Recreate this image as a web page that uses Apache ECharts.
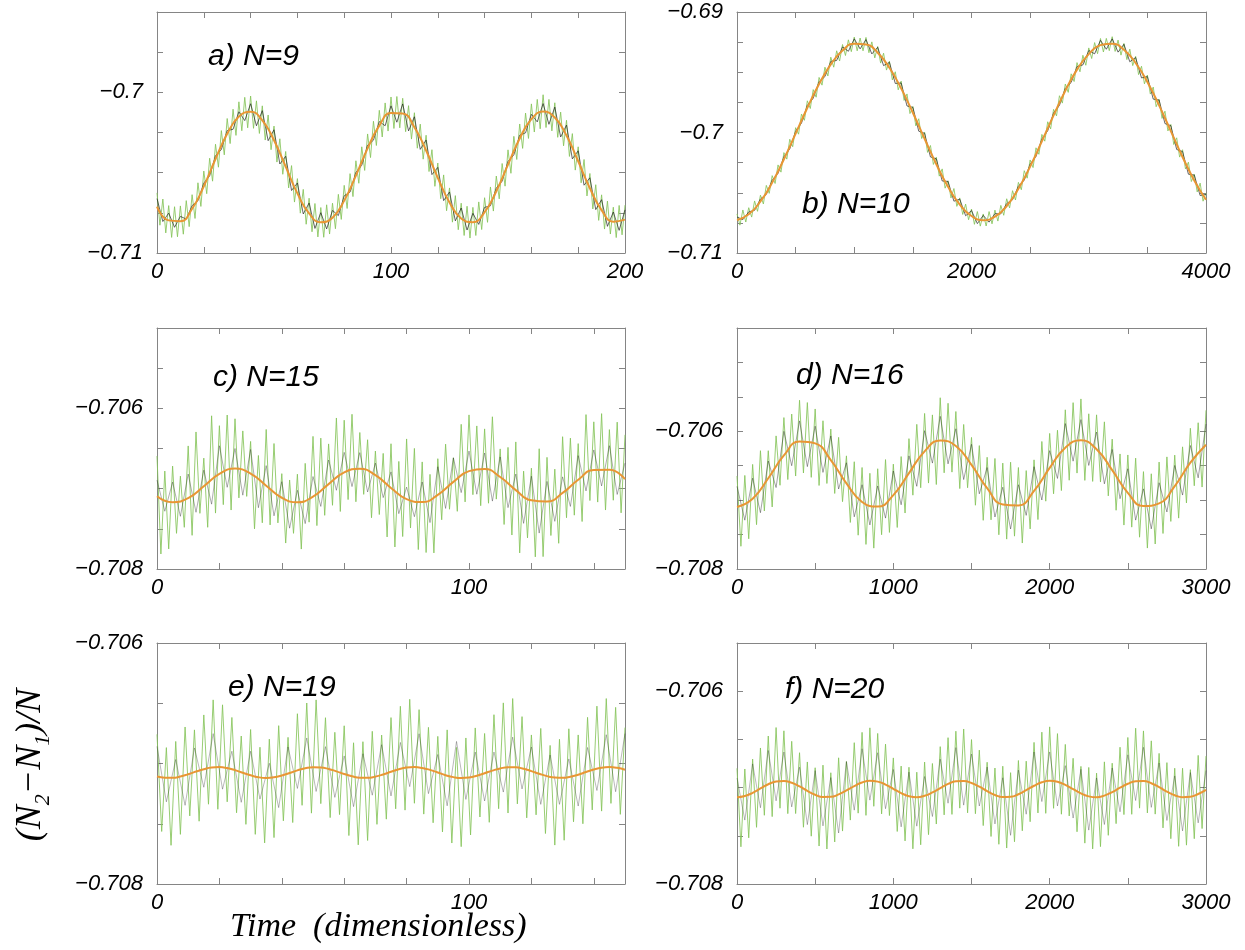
<!DOCTYPE html>
<html><head><meta charset="utf-8">
<script src="https://cdn.jsdelivr.net/npm/echarts@6/dist/echarts.min.js"></script>
<style>html,body{margin:0;padding:0;background:#fff}#c{width:1245px;height:950px}</style>
</head><body><div id="c"></div>
<script>
// ---------------- tick labels ----------------
const A_X_LABELS = [0, 100, 200];
const A_Y_LABELS = [-0.71, -0.7];
const B_X_LABELS = [0, 2000, 4000];
const B_Y_LABELS = [-0.71, -0.7, -0.69];
const C_X_LABELS = [0, 100];
const C_Y_LABELS = [-0.708, -0.706];
const D_X_LABELS = [0, 1000, 2000, 3000];
const D_Y_LABELS = [-0.708, -0.706];
const E_X_LABELS = [0, 100];
const E_Y_LABELS = [-0.708, -0.706];
const F_X_LABELS = [0, 1000, 2000, 3000];
const F_Y_LABELS = [-0.708, -0.706];

// sampling steps (time units) of each series
const A_STEPS = {orange: 5, green: 1.25, black: 2.5};
const B_STEPS = {orange: 100, green: 25, black: 50};
const C_STEPS = {orange: 5, green: 1.25, black: 2.5};
const D_STEPS = {orange: 100, green: 25, black: 50};
const E_STEPS = {orange: 2.5, green: 1.5, black: 3};
const F_STEPS = {orange: 50, green: 25, black: 50};

// ---------------- panel a) N=9 ----------------
const A_ORANGE = [-0.70711,-0.70797,-0.70802,-0.70725,-0.70585,-0.70415,-0.70258,-0.70151,-0.70121,-0.70174,-0.70298,-0.70463,-0.70629,-0.70754,-0.70809,-0.70780,-0.70674,-0.70518,-0.70349,-0.70207,-0.70129,-0.70132,-0.70217,-0.70362,-0.70532,-0.70685,-0.70785,-0.70808,-0.70746,-0.70616,-0.70450,-0.70287,-0.70167,-0.70120,-0.70157,-0.70269,-0.70429,-0.70597,-0.70733,-0.70805,-0.70792];
const A_GREEN = [-0.70626,-0.70827,-0.70664,-0.70875,-0.70705,-0.70903,-0.70712,-0.70899,-0.70707,-0.70883,-0.70674,-0.70836,-0.70637,-0.70785,-0.70563,-0.7071,-0.7049,-0.70631,-0.7041,-0.70553,-0.70323,-0.70466,-0.70238,-0.70389,-0.70163,-0.70319,-0.70105,-0.70268,-0.70059,-0.70239,-0.70031,-0.70221,-0.70023,-0.70224,-0.70053,-0.70256,-0.70084,-0.70297,-0.70141,-0.70357,-0.7021,-0.70434,-0.70289,-0.7051,-0.70368,-0.70595,-0.70456,-0.70683,-0.70537,-0.70752,-0.70604,-0.70821,-0.70659,-0.70868,-0.70692,-0.709,-0.70717,-0.70902,-0.707,-0.70882,-0.7069,-0.70849,-0.70635,-0.70791,-0.70579,-0.70723,-0.70506,-0.70649,-0.70426,-0.70566,-0.70339,-0.70486,-0.70259,-0.70406,-0.7018,-0.70331,-0.70112,-0.70278,-0.70066,-0.70241,-0.70029,-0.70225,-0.70026,-0.70221,-0.70037,-0.70245,-0.70083,-0.70291,-0.70127,-0.70348,-0.70198,-0.70416,-0.70267,-0.70493,-0.70357,-0.70585,-0.7044,-0.70662,-0.70514,-0.70737,-0.70595,-0.70808,-0.70643,-0.70855,-0.7069,-0.70891,-0.70709,-0.70907,-0.70716,-0.70891,-0.70682,-0.70854,-0.70656,-0.70809,-0.70589,-0.70739,-0.70521,-0.70663,-0.70443,-0.70584,-0.70358,-0.70504,-0.70274,-0.70418,-0.70197,-0.70349,-0.70129,-0.70287,-0.70072,-0.70247,-0.70044,-0.70227,-0.70015,-0.70219,-0.70044,-0.7024,-0.70065,-0.7028,-0.70123,-0.70333,-0.70174,-0.70399,-0.70257,-0.70484,-0.70339,-0.70563,-0.70418,-0.70645,-0.70505,-0.70726,-0.70575,-0.70797,-0.70638,-0.70851,-0.70677,-0.70882,-0.70715,-0.70904,-0.70704,-0.70887,-0.70702];
const A_BLACK = [-0.70661,-0.70804,-0.70752,-0.7084,-0.70772,-0.70789,-0.70705,-0.70675,-0.70565,-0.7052,-0.70395,-0.70356,-0.70238,-0.7023,-0.70121,-0.70176,-0.70071,-0.70208,-0.70114,-0.70301,-0.70233,-0.70446,-0.70398,-0.70611,-0.70564,-0.70757,-0.70689,-0.70847,-0.70749,-0.7085,-0.70735,-0.70767,-0.70644,-0.70621,-0.70498,-0.70454,-0.70329,-0.70298,-0.70182,-0.70208,-0.70084,-0.70186,-0.70072,-0.7024,-0.70152,-0.70355,-0.70297,-0.70512,-0.70467,-0.70674,-0.7062,-0.708,-0.7072,-0.70857,-0.70753,-0.70822,-0.70716,-0.70706,-0.70596,-0.70553,-0.7043,-0.70389,-0.70267,-0.70252,-0.70137,-0.70184,-0.7007,-0.70199,-0.70092,-0.70278,-0.70204,-0.70414,-0.70364,-0.70578,-0.70532,-0.7073,-0.70668,-0.70834,-0.70745,-0.70859,-0.70732];

// ---------------- panel b) N=10 ----------------
const B_ORANGE = [-0.70726,-0.70679,-0.70572,-0.70416,-0.70222,-0.70010,-0.69795,-0.69598,-0.69435,-0.69320,-0.69263,-0.69269,-0.69338,-0.69463,-0.69634,-0.69836,-0.70052,-0.70263,-0.70451,-0.70598,-0.70693,-0.70728,-0.70699,-0.70610,-0.70466,-0.70283,-0.70074,-0.69858,-0.69653,-0.69478,-0.69350,-0.69275,-0.69263,-0.69313,-0.69423,-0.69581,-0.69775,-0.69988,-0.70203,-0.70398,-0.70558];
const B_GREEN = [-0.70676,-0.70769,-0.70643,-0.70743,-0.70624,-0.70702,-0.70568,-0.70654,-0.70520,-0.70593,-0.70439,-0.70505,-0.70358,-0.70423,-0.70269,-0.70329,-0.70167,-0.70221,-0.70056,-0.70118,-0.69960,-0.70014,-0.69847,-0.69899,-0.69737,-0.69801,-0.69644,-0.69707,-0.69543,-0.69607,-0.69458,-0.69531,-0.69375,-0.69458,-0.69322,-0.69407,-0.69270,-0.69361,-0.69231,-0.69329,-0.69208,-0.69322,-0.69216,-0.69322,-0.69211,-0.69338,-0.69248,-0.69381,-0.69286,-0.69424,-0.69342,-0.69482,-0.69408,-0.69564,-0.69496,-0.69646,-0.69574,-0.69734,-0.69680,-0.69843,-0.69784,-0.69945,-0.69886,-0.70050,-0.69997,-0.70165,-0.70108,-0.70265,-0.70205,-0.70362,-0.70302,-0.70462,-0.70401,-0.70543,-0.70465,-0.70613,-0.70543,-0.70680,-0.70594,-0.70724,-0.70635,-0.70762,-0.70656,-0.70777,-0.70676,-0.70776,-0.70656,-0.70758,-0.70644,-0.70735,-0.70605,-0.70687,-0.70550,-0.70626,-0.70483,-0.70560,-0.70414,-0.70475,-0.70317,-0.70379,-0.70228,-0.70291,-0.70127,-0.70181,-0.70016,-0.70072,-0.69911,-0.69970,-0.69808,-0.69862,-0.69695,-0.69756,-0.69598,-0.69667,-0.69513,-0.69577,-0.69420,-0.69496,-0.69359,-0.69442,-0.69298,-0.69386,-0.69254,-0.69346,-0.69220,-0.69332,-0.69219,-0.69321,-0.69205,-0.69327,-0.69233,-0.69358,-0.69261,-0.69395,-0.69308,-0.69445,-0.69368,-0.69520,-0.69450,-0.69596,-0.69523,-0.69681,-0.69623,-0.69786,-0.69725,-0.69883,-0.69823,-0.69987,-0.69933,-0.70100,-0.70044,-0.70204,-0.70143,-0.70302,-0.70246,-0.70407,-0.70346,-0.70493,-0.70420,-0.70570,-0.70503];
const B_BLACK = [-0.70701,-0.70723,-0.70659,-0.70646,-0.70552,-0.70514,-0.70396,-0.70339,-0.70202,-0.70136,-0.69990,-0.69922,-0.69775,-0.69716,-0.69578,-0.69536,-0.69410,-0.69402,-0.69290,-0.69326,-0.69223,-0.69306,-0.69229,-0.69348,-0.69293,-0.69445,-0.69418,-0.69593,-0.69589,-0.69780,-0.69791,-0.69989,-0.70007,-0.70203,-0.70218,-0.70402,-0.70406,-0.70570,-0.70553,-0.70691,-0.70648,-0.70756,-0.70688,-0.70744,-0.70674,-0.70675,-0.70590,-0.70558,-0.70446,-0.70395,-0.70263,-0.70199,-0.70054,-0.69986,-0.69838,-0.69775,-0.69633,-0.69585,-0.69453,-0.69439,-0.69320,-0.69347,-0.69235,-0.69309,-0.69223,-0.69333,-0.69268,-0.69413,-0.69378,-0.69547,-0.69536,-0.69723,-0.69730,-0.69926,-0.69943,-0.70141,-0.70158,-0.70346,-0.70353,-0.70523,-0.70513];

// ---------------- panel c) N=15 ----------------
const C_ORANGE = [-0.707094,-0.707169,-0.707118,-0.70697,-0.706816,-0.70675,-0.706812,-0.706963,-0.707113,-0.70717,-0.707099,-0.706943,-0.706798,-0.706751,-0.706832,-0.706991,-0.707131,-0.707167,-0.707077,-0.706916,-0.706782,-0.706756,-0.706855,-0.707018,-0.707145,-0.70716,-0.707053,-0.706889,-0.706768,-0.706765,-0.70688];
const C_GREEN = [-0.706594,-0.707813,-0.706781,-0.70775,-0.706719,-0.707556,-0.706844,-0.707481,-0.706468,-0.707581,-0.706294,-0.707307,-0.70662,-0.707481,-0.706093,-0.707304,-0.706216,-0.707199,-0.706083,-0.707266,-0.70613,-0.707115,-0.706281,-0.707096,-0.706412,-0.7075,-0.706587,-0.707425,-0.706263,-0.707451,-0.706438,-0.707426,-0.706813,-0.707677,-0.706892,-0.707556,-0.70682,-0.707752,-0.706685,-0.707417,-0.706349,-0.70746,-0.706371,-0.707332,-0.706443,-0.707207,-0.70612,-0.707284,-0.706148,-0.707136,-0.706074,-0.707163,-0.706301,-0.707071,-0.706391,-0.707362,-0.706532,-0.707322,-0.706561,-0.707601,-0.706441,-0.707726,-0.706661,-0.707596,-0.706381,-0.70749,-0.706499,-0.707758,-0.706667,-0.707795,-0.706822,-0.7078,-0.706627,-0.707387,-0.706446,-0.707256,-0.706616,-0.707282,-0.706199,-0.707165,-0.706082,-0.707075,-0.706219,-0.707212,-0.706256,-0.707181,-0.706105,-0.70713,-0.706505,-0.707446,-0.706486,-0.707577,-0.706418,-0.7078,-0.706782,-0.707613,-0.706745,-0.707849,-0.706503,-0.707846,-0.70661,-0.707583,-0.706757,-0.70768,-0.706353,-0.707362,-0.706371,-0.70733,-0.706439,-0.707409,-0.706078,-0.707148,-0.706168,-0.707167,-0.706066,-0.707266,-0.706265,-0.707144,-0.706172,-0.707301,-0.70633];
const C_BLACK = [-0.706894,-0.707281,-0.706919,-0.707344,-0.706818,-0.707294,-0.70677,-0.707193,-0.706466,-0.706983,-0.7065,-0.707081,-0.706512,-0.707237,-0.706713,-0.707338,-0.706913,-0.707492,-0.70702,-0.707435,-0.706849,-0.707221,-0.706643,-0.70702,-0.706548,-0.706974,-0.706551,-0.707041,-0.706682,-0.707111,-0.706791,-0.707311,-0.706981,-0.707349,-0.706917,-0.707422,-0.706727,-0.707246,-0.706616,-0.707049,-0.706532,-0.707069,-0.706556,-0.707155,-0.706605,-0.707236,-0.706818,-0.707432,-0.706845,-0.707553,-0.70691,-0.707407,-0.706853,-0.707221,-0.706589,-0.707028,-0.706518,-0.706966,-0.706465,-0.707072,-0.70668];

// ---------------- panel d) N=16 ----------------
const D_ORANGE = [-0.7071,-0.706981,-0.706682,-0.706351,-0.706149,-0.706176,-0.706418,-0.706757,-0.707026,-0.707094,-0.706927,-0.706607,-0.706291,-0.706133,-0.706213,-0.706489,-0.706827,-0.707062,-0.707076,-0.706865,-0.706531,-0.706238,-0.70613,-0.706261,-0.706564,-0.706894,-0.707086,-0.707047,-0.706796,-0.706456,-0.706195];
const D_GREEN = [-0.70665,-0.70767,-0.706641,-0.707561,-0.706481,-0.707356,-0.706282,-0.707157,-0.706282,-0.707099,-0.706067,-0.706784,-0.705801,-0.706701,-0.70575,-0.70665,-0.705549,-0.706606,-0.705583,-0.706669,-0.705676,-0.706787,-0.705847,-0.706758,-0.705968,-0.706903,-0.706088,-0.707022,-0.706357,-0.707324,-0.706442,-0.707509,-0.706526,-0.707643,-0.70661,-0.707697,-0.706544,-0.707502,-0.706411,-0.707469,-0.706477,-0.707397,-0.706367,-0.707187,-0.706107,-0.706928,-0.705899,-0.70682,-0.705741,-0.706752,-0.705762,-0.706773,-0.705513,-0.706603,-0.705593,-0.706593,-0.705713,-0.706832,-0.705901,-0.70682,-0.706089,-0.707074,-0.706208,-0.707293,-0.706377,-0.707286,-0.706395,-0.707503,-0.706462,-0.707566,-0.706449,-0.707523,-0.706526,-0.707623,-0.706571,-0.707418,-0.706415,-0.707282,-0.706148,-0.707015,-0.706031,-0.706908,-0.705985,-0.706861,-0.705688,-0.706711,-0.705584,-0.706607,-0.70553,-0.706713,-0.705746,-0.706728,-0.705761,-0.706737,-0.705863,-0.706938,-0.706114,-0.707147,-0.706329,-0.707362,-0.706344,-0.707392,-0.70639,-0.707538,-0.706586,-0.707696,-0.706617,-0.707637,-0.706447,-0.707484,-0.706372,-0.707309,-0.706346,-0.707261,-0.706226,-0.707041,-0.705956,-0.706791,-0.705876,-0.70681,-0.705695];
const D_BLACK = [-0.7068,-0.707291,-0.706681,-0.707182,-0.706432,-0.706817,-0.706001,-0.7065,-0.705849,-0.706513,-0.705926,-0.706597,-0.706068,-0.706838,-0.706457,-0.707242,-0.706776,-0.70736,-0.706794,-0.707261,-0.706577,-0.707067,-0.706357,-0.706799,-0.705991,-0.706462,-0.705783,-0.706473,-0.705963,-0.706701,-0.706189,-0.706908,-0.706527,-0.707245,-0.706812,-0.707419,-0.706776,-0.707221,-0.706515,-0.706998,-0.706281,-0.706685,-0.705888,-0.706434,-0.70583,-0.706496,-0.706011,-0.706763,-0.706264,-0.706979,-0.706544,-0.70729,-0.706836,-0.707417,-0.706747,-0.707172,-0.706496,-0.706926,-0.706206,-0.706676,-0.705895];

// ---------------- panel e) N=19 ----------------
const E_ORANGE = [-0.707108,-0.707118,-0.707119,-0.707108,-0.707089,-0.707067,-0.707047,-0.707033,-0.70703,-0.707038,-0.707055,-0.707077,-0.707098,-0.707114,-0.70712,-0.707115,-0.7071,-0.707079,-0.707057,-0.70704,-0.707031,-0.707033,-0.707045,-0.707065,-0.707087,-0.707106,-0.707118,-0.707119,-0.707109,-0.707091,-0.707069,-0.707048,-0.707034,-0.70703,-0.707037,-0.707053,-0.707075,-0.707097,-0.707113,-0.70712,-0.707116,-0.707102,-0.707081,-0.707059,-0.707041,-0.707031,-0.707032,-0.707044,-0.707063,-0.707085,-0.707105,-0.707117,-0.707119,-0.70711,-0.707093,-0.707071,-0.70705,-0.707035,-0.70703,-0.707036,-0.707052];
const E_GREEN = [-0.706758,-0.707564,-0.706868,-0.707679,-0.706817,-0.707588,-0.706697,-0.707435,-0.706721,-0.707479,-0.706597,-0.707338,-0.706472,-0.70738,-0.706513,-0.707318,-0.706618,-0.707409,-0.706772,-0.707505,-0.706718,-0.707588,-0.706865,-0.707659,-0.706798,-0.707615,-0.706686,-0.707476,-0.706783,-0.70749,-0.706587,-0.707347,-0.706498,-0.707412,-0.706472,-0.707333,-0.70662,-0.707449,-0.706741,-0.707424,-0.706687,-0.707598,-0.706828,-0.707675,-0.706819,-0.707639,-0.706733,-0.707505,-0.706764,-0.707462,-0.706619,-0.707376,-0.706525,-0.707387,-0.706467,-0.70733,-0.706553,-0.70742,-0.7067,-0.707492,-0.706775,-0.707568,-0.706721,-0.70766,-0.706867,-0.70769,-0.706788,-0.707593,-0.706705,-0.707444,-0.706751,-0.707488,-0.706595,-0.707375,-0.706497,-0.707411,-0.706461,-0.707335,-0.706611,-0.707451,-0.706763,-0.707426,-0.706709,-0.707581,-0.70685,-0.707677,-0.706799,-0.707637,-0.706712,-0.707484,-0.706763,-0.7075,-0.706617,-0.707385,-0.706524,-0.707395,-0.706461,-0.707331,-0.706534,-0.707422,-0.706702];
const E_BLACK = [-0.706858,-0.707318,-0.706967,-0.707347,-0.706871,-0.707197,-0.706752,-0.707213,-0.706898,-0.707322,-0.706898,-0.707295,-0.706998,-0.707366,-0.706863,-0.707207,-0.706788,-0.707232,-0.70686,-0.707281,-0.706937,-0.707358,-0.706919,-0.707263,-0.706844,-0.707269,-0.706825,-0.707192,-0.706753,-0.70725,-0.706925,-0.707351,-0.706817,-0.707298,-0.706905,-0.707311,-0.706905,-0.707237,-0.706781,-0.707211,-0.706863,-0.707339,-0.70693,-0.707339,-0.706962,-0.707353,-0.706867,-0.707224,-0.706761,-0.707234,-0.706752];

// ---------------- panel f) N=20 ----------------
const F_ORANGE = [-0.7071,-0.707087,-0.707054,-0.707009,-0.706965,-0.706937,-0.706931,-0.70695,-0.706988,-0.707034,-0.707074,-0.707097,-0.707096,-0.707071,-0.70703,-0.706984,-0.706947,-0.70693,-0.706938,-0.706969,-0.707012,-0.707057,-0.707089,-0.7071,-0.707085,-0.70705,-0.707005,-0.706962,-0.706935,-0.706932,-0.706952,-0.706991,-0.707037,-0.707077,-0.707098,-0.707095,-0.707069,-0.707026,-0.706981,-0.706945,-0.70693,-0.70694,-0.706972,-0.707016,-0.70706,-0.707091,-0.7071,-0.707083,-0.707047,-0.707001,-0.70696,-0.706934,-0.706932,-0.706955,-0.706995,-0.707041,-0.707079,-0.707099,-0.707094,-0.707066,-0.707023];
const F_GREEN = [-0.7068,-0.707614,-0.706807,-0.707521,-0.706704,-0.707412,-0.706589,-0.707287,-0.706465,-0.707301,-0.706377,-0.707214,-0.706411,-0.70727,-0.70652,-0.707269,-0.706638,-0.707411,-0.706734,-0.707504,-0.706794,-0.707606,-0.706767,-0.707637,-0.706846,-0.707564,-0.706691,-0.707451,-0.70673,-0.707337,-0.706534,-0.707265,-0.706427,-0.707288,-0.70638,-0.707194,-0.706438,-0.707273,-0.706549,-0.70729,-0.706692,-0.707455,-0.706777,-0.707553,-0.706789,-0.707635,-0.70684,-0.707593,-0.706735,-0.707488,-0.70675,-0.707378,-0.706575,-0.707283,-0.706482,-0.707278,-0.706415,-0.707213,-0.706392,-0.707262,-0.706502,-0.707271,-0.706611,-0.707394,-0.706737,-0.707507,-0.706797,-0.707588,-0.706778,-0.707627,-0.706845,-0.707562,-0.706719,-0.707448,-0.706726,-0.707354,-0.706531,-0.707263,-0.706425,-0.707267,-0.70637,-0.707215,-0.70644,-0.707276,-0.706552,-0.707294,-0.706696,-0.707458,-0.70678,-0.707576,-0.706791,-0.707636,-0.70685,-0.707612,-0.706733,-0.707495,-0.706747,-0.707374,-0.706581,-0.70728,-0.70648,-0.707277,-0.706384,-0.707213,-0.706412,-0.707263,-0.706515,-0.707275,-0.706645,-0.707418,-0.706741,-0.70753,-0.706799,-0.707609,-0.706799,-0.707597,-0.706814,-0.70753,-0.706666,-0.707425,-0.706673];
const F_BLACK = [-0.7069,-0.707337,-0.706754,-0.707209,-0.706615,-0.707137,-0.706631,-0.7072,-0.706788,-0.707384,-0.706824,-0.707397,-0.706896,-0.707471,-0.70673,-0.707234,-0.706597,-0.70713,-0.706638,-0.707219,-0.706812,-0.707407,-0.706839,-0.7074,-0.706885,-0.7073,-0.706705,-0.707162,-0.706585,-0.707182,-0.706652,-0.707191,-0.706787,-0.707377,-0.706898,-0.707495,-0.706819,-0.707276,-0.706631,-0.707145,-0.70663,-0.70719,-0.706772,-0.707316,-0.70681,-0.707441,-0.7069,-0.707383,-0.706797,-0.707251,-0.70666,-0.707134,-0.706582,-0.707205,-0.706745,-0.707341,-0.706879,-0.707449,-0.706844,-0.707366,-0.706823];

const PANEL_TITLES = ['a) N=9', 'b) N=10', 'c) N=15', 'd) N=16', 'e) N=19', 'f) N=20'];
const X_TITLE = 'Time  (dimensionless)';

// ---------------- layout / styling ----------------
const FRAME = '#858585';
const GREEN = '#86c45a';
const BLACK = '#1c1c1c';
const ORANGE = '#e99634';

const panels = [
  {left:157, top:12,  w:468, h:241, xMin:0, xMax:200,  xInt:20,  yMin:-0.71,  yMax:-0.695,  yInt:0.0025, xl:A_X_LABELS, yl:A_Y_LABELS, o:A_ORANGE, g:A_GREEN, b:A_BLACK, s:A_STEPS, tx:208, ty:57, bo:0.75},
  {left:737, top:12,  w:469, h:241, xMin:0, xMax:4000, xInt:500, yMin:-0.71,  yMax:-0.69,   yInt:0.0025, xl:B_X_LABELS, yl:B_Y_LABELS, o:B_ORANGE, g:B_GREEN, b:B_BLACK, s:B_STEPS, tx:802, ty:205, bo:0.75},
  {left:157, top:328, w:468, h:241, xMin:0, xMax:150,  xInt:20,  yMin:-0.708, yMax:-0.705,  yInt:0.0005, xl:C_X_LABELS, yl:C_Y_LABELS, o:C_ORANGE, g:C_GREEN, b:C_BLACK, s:C_STEPS, tx:213, ty:378, bo:0.4},
  {left:737, top:328, w:469, h:241, xMin:0, xMax:3000, xInt:500, yMin:-0.708, yMax:-0.7045, yInt:0.0005, xl:D_X_LABELS, yl:D_Y_LABELS, o:D_ORANGE, g:D_GREEN, b:D_BLACK, s:D_STEPS, tx:796, ty:376, bo:0.45},
  {left:157, top:643, w:468, h:241, xMin:0, xMax:150,  xInt:20,  yMin:-0.708, yMax:-0.706,  yInt:0.0005, xl:E_X_LABELS, yl:E_Y_LABELS, o:E_ORANGE, g:E_GREEN, b:E_BLACK, s:E_STEPS, tx:228, ty:688, bo:0.35},
  {left:737, top:643, w:469, h:241, xMin:0, xMax:3000, xInt:500, yMin:-0.708, yMax:-0.7055, yInt:0.0005, xl:F_X_LABELS, yl:F_Y_LABELS, o:F_ORANGE, g:F_GREEN, b:F_BLACK, s:F_STEPS, tx:785, ty:690, bo:0.35}
];

function makeFmt(list) {
  return function (v) {
    for (const l of list) if (Math.abs(v - l) < 1e-7) return String(l).replace('-', '\u2212');
    return '';
  };
}
function toPairs(arr, dt) { return arr.map((v, k) => [k * dt, v]); }

const grid = [], xAxis = [], yAxis = [], series = [], graphic = [];
const labStyle = {fontFamily: '"Liberation Sans", Arial, sans-serif', fontStyle: 'italic', fontSize: 22, color: '#000'};

panels.forEach((p, i) => {
  grid.push({left: p.left, top: p.top, width: p.w, height: p.h, show: false});
  const axLine = {show: true, onZero: false, lineStyle: {color: FRAME, width: 1}};
  const tick = {show: true, inside: true, length: 6, lineStyle: {color: FRAME, width: 1}};
  const baseX = {gridIndex: i, type: 'value', min: p.xMin, max: p.xMax, interval: p.xInt,
    axisLine: axLine, axisTick: tick, splitLine: {show: false}};
  const baseY = {gridIndex: i, type: 'value', min: p.yMin, max: p.yMax, interval: p.yInt, scale: true,
    axisLine: axLine, axisTick: tick, splitLine: {show: false}};
  xAxis.push(Object.assign({}, baseX, {position: 'bottom',
    axisLabel: Object.assign({margin: 8, formatter: makeFmt(p.xl)}, labStyle)}));
  xAxis.push(Object.assign({}, baseX, {position: 'top', axisLabel: {show: false}}));
  yAxis.push(Object.assign({}, baseY, {position: 'left',
    axisLabel: Object.assign({margin: 14, formatter: makeFmt(p.yl)}, labStyle)}));
  yAxis.push(Object.assign({}, baseY, {position: 'right', axisLabel: {show: false}}));

  const common = {type: 'line', xAxisIndex: 2 * i, yAxisIndex: 2 * i, showSymbol: false, silent: true, animation: false};
  series.push(Object.assign({}, common, {data: toPairs(p.g, p.s.green), lineStyle: {color: GREEN, width: 1, opacity: 0.85}}));
  series.push(Object.assign({}, common, {data: toPairs(p.b, p.s.black), lineStyle: {color: BLACK, width: 0.9, opacity: p.bo}}));
  series.push(Object.assign({}, common, {data: toPairs(p.o, p.s.orange), smooth: true, lineStyle: {color: ORANGE, width: 2}}));

  graphic.push({type: 'text', x: p.tx, y: p.ty, silent: true,
    style: {text: PANEL_TITLES[i], fill: '#000', font: 'italic 30px "Liberation Sans", Arial, sans-serif', verticalAlign: 'middle', align: 'left'}});
});

graphic.push({type: 'text', x: 230, y: 927, silent: true,
  style: {text: X_TITLE, fill: '#000', font: 'italic 34px "Liberation Serif", "Times New Roman", serif', verticalAlign: 'middle', align: 'left'}});

graphic.push({type: 'text', x: 31, y: 765, rotation: Math.PI / 2, silent: true,
  style: {
    text: '{m|(N}{s|2}{m|\u2212N}{s|1}{m|)/N}',
    align: 'center', verticalAlign: 'middle',
    rich: {
      m: {fontFamily: '"Liberation Serif", "Times New Roman", serif', fontStyle: 'italic', fontSize: 36, lineHeight: 46, fill: '#000'},
      s: {fontFamily: '"Liberation Serif", "Times New Roman", serif', fontStyle: 'italic', fontSize: 22, lineHeight: 22, verticalAlign: 'bottom', fill: '#000'}
    }
  }});

const chart = echarts.init(document.getElementById('c'), null, {renderer: 'canvas'});
chart.setOption({backgroundColor: '#fff', animation: false, grid, xAxis, yAxis, series, graphic});
</script></body></html>
